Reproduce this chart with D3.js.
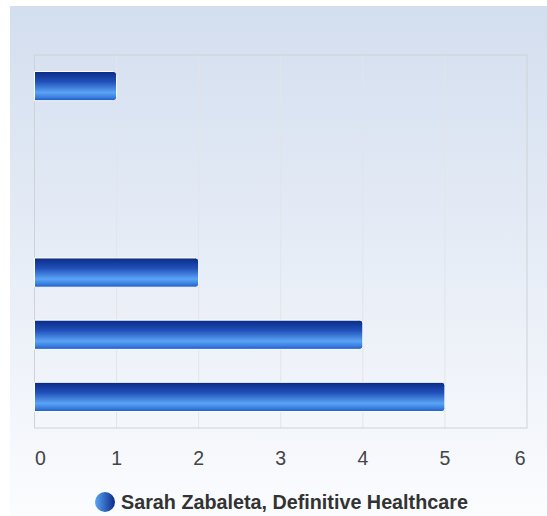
<!DOCTYPE html>
<html>
<head>
<meta charset="utf-8">
<script src="https://cdn.jsdelivr.net/npm/d3@7"></script>
<style>
  html, body { margin: 0; padding: 0; background: #fff; }
  svg { display: block; font-family: "Liberation Sans", Arial, sans-serif; }
</style>
</head>
<body>
<svg id="chart" width="547" height="516"></svg>
<script>
'use strict'

// categories have no visible labels in the chart
const categories = ['c1', 'c2', 'c3', 'c4', 'c5', 'c6']
const values = [1, 0, 0, 2, 4, 5]
const tickValues = [0, 1, 2, 3, 4, 5, 6]
const seriesName = 'Sarah Zabaleta, Definitive Healthcare'

const svg = d3.select('#chart')
const W = 547, H = 516
const plot = { left: 34.5, top: 55, right: 527, bottom: 428 }

const defs = svg.append('defs')

const bg = defs.append('linearGradient').attr('id', 'bg')
  .attr('x1', 0).attr('y1', 0).attr('x2', 0).attr('y2', 1)
bg.append('stop').attr('offset', '0%').attr('stop-color', '#d3deef')
bg.append('stop').attr('offset', '100%').attr('stop-color', '#fbfcfe')

const barGrad = defs.append('linearGradient').attr('id', 'barGrad')
  .attr('x1', 0).attr('y1', 0).attr('x2', 0).attr('y2', 1)
;[['0%', '#0a2a86'], ['35%', '#2050b8'], ['72%', '#5aa4f6'], ['88%', '#3b7fe0'], ['100%', '#1f58c4']]
  .forEach(([o, c]) => barGrad.append('stop').attr('offset', o).attr('stop-color', c))

const dotGrad = defs.append('linearGradient').attr('id', 'dotGrad')
  .attr('x1', 0).attr('y1', 0).attr('x2', 1).attr('y2', 0)
dotGrad.append('stop').attr('offset', '0%').attr('stop-color', '#5aa4f6')
dotGrad.append('stop').attr('offset', '100%').attr('stop-color', '#0a2a86')

svg.append('rect')
  .attr('x', 10).attr('y', 6)
  .attr('width', W - 10).attr('height', H - 6)
  .attr('fill', 'url(#bg)')

const x = d3.scaleLinear().domain([0, 6]).range([plot.left, plot.right])
const y = d3.scaleBand().domain(categories).range([plot.top, plot.bottom])
  .paddingInner(0.53).paddingOuter(0.265)

// grid
svg.append('g')
  .selectAll('line')
  .data(tickValues.slice(1, -1))
  .join('line')
  .attr('x1', d => x(d)).attr('x2', d => x(d))
  .attr('y1', plot.top).attr('y2', plot.bottom)
  .attr('stroke', '#e2e4e8').attr('stroke-width', 1)

svg.append('rect')
  .attr('x', plot.left).attr('y', plot.top)
  .attr('width', plot.right - plot.left).attr('height', plot.bottom - plot.top)
  .attr('fill', 'none').attr('stroke', '#cfd2d6').attr('stroke-width', 1)

// bars, rounded on the right end only
const barPath = (x0, x1, y0, h, r) => {
  if (x1 - x0 < r) r = Math.max(0, x1 - x0)
  return `M${x0},${y0}H${x1 - r}Q${x1},${y0} ${x1},${y0 + r}V${y0 + h - r}Q${x1},${y0 + h} ${x1 - r},${y0 + h}H${x0}Z`
}

svg.append('g')
  .selectAll('path')
  .data(categories.map((c, i) => ({ c, v: values[i] })).filter(d => d.v > 0))
  .join('path')
  .attr('d', d => barPath(x(0), x(d.v), y(d.c), y.bandwidth(), 3))
  .attr('fill', 'url(#barGrad)')
  .attr('stroke', '#ffffff').attr('stroke-width', 1)

// axis labels
svg.append('g')
  .selectAll('text')
  .data(tickValues)
  .join('text')
  .attr('x', (d, i) => i === 0 ? x(d) + 0.5 : i === tickValues.length - 1 ? x(d) - 1.5 : x(d))
  .attr('y', 465)
  .attr('text-anchor', (d, i) => i === 0 ? 'start' : i === tickValues.length - 1 ? 'end' : 'middle')
  .attr('font-size', 19.5)
  .attr('fill', '#444')
  .text(d => d)

// legend
svg.append('circle')
  .attr('cx', 105).attr('cy', 502).attr('r', 10)
  .attr('fill', 'url(#dotGrad)')

svg.append('text')
  .attr('x', 121).attr('y', 509)
  .attr('font-size', 19.75)
  .attr('font-weight', 'bold')
  .attr('fill', '#333')
  .text(seriesName)
</script>
</body>
</html>
